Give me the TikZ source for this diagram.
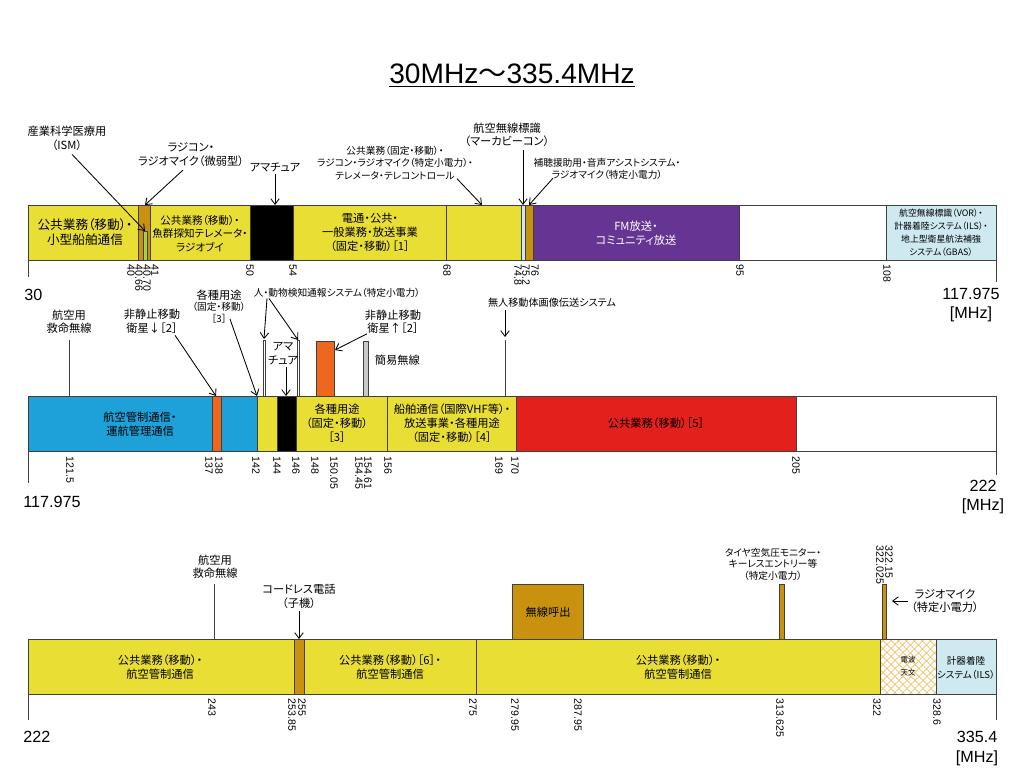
\documentclass[tikz,border=0pt]{standalone}
\usepackage{fontspec}
\setmainfont{Liberation Sans}
\newfontfamily\jp[RawFeature=+palt]{Noto Sans CJK JP}
\usetikzlibrary{arrows.meta,patterns.meta}
\definecolor{yel}{RGB}{233,222,52}
\definecolor{gold}{RGB}{200,146,14}
\definecolor{skyb}{RGB}{30,160,216}
\definecolor{orng}{RGB}{238,103,30}
\definecolor{redb}{RGB}{227,32,27}
\definecolor{purp}{RGB}{102,53,147}
\definecolor{lblue}{RGB}{207,233,241}
\definecolor{grn}{RGB}{165,209,62}
\definecolor{lgray}{RGB}{200,200,200}
\definecolor{hatch}{RGB}{242,196,106}
\definecolor{edge}{RGB}{64,64,64}
\begin{document}
\begin{tikzpicture}[
			x=0.025cm, y=-0.025cm,
			band/.style={draw=edge, line width=0.6pt},
			arr/.style={-{Straight Barb[length=4pt,width=6pt]}, line width=0.6pt},
			lbl/.style={font=\jp\fontsize{8}{10}\selectfont, align=center, inner sep=0pt},
			note/.style={font=\jp\fontsize{6.9}{8.2}\selectfont, align=center, inner sep=0pt, outer sep=2pt},
			notel/.style={note, font=\jp\fontsize{8}{9.6}\selectfont},
			tick/.style={font=\fontsize{7.5}{8}\selectfont, rotate=-90, anchor=west, inner sep=0.5pt},
			axnum/.style={font=\fontsize{11.5}{14}\selectfont, align=center, inner sep=0pt}
		]
		\useasboundingbox (0,0) rectangle (1024,768);
		\fill[white] (0,0) rectangle (1024,768);
		\node[font=\fontsize{20}{22}\selectfont, anchor=base, inner sep=0pt] (title) at (512,84) {\underline{30MHz{\jp ～}335.4MHz}};

		\foreach \a/\b/\c in {28/138/yel,138/150/gold,150/250/yel,250/293/black,293/446/yel,446/521/yel,521/525/lblue,525/533/gold,533/739/purp,739/886/white,886/996/lblue}
			\draw[band,fill=\c] (\a,205) rectangle (\b,260);
		\draw[band,fill=grn] (143,231) rectangle (147,260);
		\draw[band] (28,260) -- (28,277);
		\draw[band] (996,260) -- (996,282);
		\foreach \x/\t [count=\i] in {131/40,139/40.66,147/40.70,155/41,250/50,293/54,447/68,518/74.8,526/75.2,535/76,740/95,887/108}
			\node[tick] (ta\i) at (\x,264) {\t};
		\node[axnum,anchor=west] (lo1) at (24,295) {30};
		\node[axnum] (hi1) at (971,305) {117.975\\{[MHz]}};

		\node[lbl,font=\jp\fontsize{9}{10.7}\selectfont] (land1) at (85,232.5) {公共業務（移動）・\\小型船舶通信};
		\node[lbl,font=\jp\fontsize{7.5}{9.8}\selectfont] (fish) at (200,233.5) {公共業務（移動）・\\魚群探知テレメータ・\\ラジオブイ};
		\node[lbl] (telecom) at (370,232.5) {電通・公共・\\一般業務・放送事業\\（固定・移動）［1］};
		\node[lbl,text=white] (fm) at (636,233.5) {FM放送・\\コミュニティ放送};
		\node[lbl,font=\jp\fontsize{6.3}{9.2}\selectfont] (vor) at (941,232.5) {航空無線標識（VOR）・\\計器着陸システム（ILS）・\\地上型衛星航法補強\\システム（GBAS）};

		\coordinate (ismtop) at (145,231);
		\coordinate (radtop) at (145,205);
		\coordinate (amatop) at (275,205);
		\coordinate (fixtop) at (482,205);
		\coordinate (mktop) at (523,205);
		\coordinate (hrtop) at (529,205);
		\node[notel] (ism) at (67,138.5) {産業科学医療用\\（ISM）};
		\node[notel] (radio) at (191,154.5) {ラジコン・\\ラジオマイク（微弱型）};
		\node[notel] (ama1) at (275,167) {アマチュア};
		\node[note,font=\jp\fontsize{6.9}{8.9}\selectfont] (fixmob) at (395,163) {公共業務（固定・移動）・\\ラジコン・ラジオマイク（特定小電力）・\\テレメータ・テレコントロール};
		\node[notel] (marker) at (507,135) {航空無線標識\\（マーカビーコン）};
		\node[note] (hearing) at (607,169) {補聴援助用・音声アシストシステム・\\ラジオマイク（特定小電力）};
		\draw[arr] ([shift={(5,1)}]ism.south) -- (ismtop);
		\draw[arr] ([shift={(-8,1)}]radio.south) -- (radtop);
		\draw[arr] (ama1) -- (amatop);
		\draw[arr] ([shift={(62,-4)}]fixmob.south) -- (fixtop);
		\draw[arr] (marker.south -| mktop) -- (mktop);
		\draw[arr] ([shift={(-54,-4)}]hearing.south) -- (hrtop);

		\foreach \a/\b/\c in {28/212/skyb,212/221/orng,221/257/skyb,257/277/yel,277/296/black,296/387/yel,387/516/yel,516/796/redb,796/996/white}
			\draw[band,fill=\c] (\a,396) rectangle (\b,451);
		\draw[band,fill=orng] (316,341) rectangle (334,396);
		\draw[band,fill=lgray] (363,341) rectangle (368,396);
		\draw[band,fill=white] (263,340) rectangle (265,396);
		\draw[band,fill=white] (297,340) rectangle (299,396);
		\draw[band] (28,451) -- (28,483);
		\draw[band] (996,451) -- (996,475);
		\coordinate (resc1top) at (69,340);
		\coordinate (resc1base) at (69,396);
		\draw[band] (resc1top) -- (resc1base);
		\coordinate (dronetop) at (505,340);
		\coordinate (dronebase) at (505,396);
		\draw[band] (dronetop) -- (dronebase);
		\foreach \x/\t [count=\i] in {70/121.5,209/137,219/138,256/142,277/144,296/146,315/148,334/150.05,359/154.45,368/154.61,388/156,499/169,515/170,796/205}
			\node[tick] (tb\i) at (\x,456) {\t};
		\node[axnum,anchor=west] (lo2) at (23,502) {117.975};
		\node[axnum] (hi2) at (983,497) {222\\{[MHz]}};

		\node[lbl] (atc) at (140,424) {航空管制通信・\\運航管理通信};
		\node[lbl] (var3) at (337,423) {各種用途\\（固定・移動）\\［3］};
		\node[lbl] (ship) at (452,423) {船舶通信（国際VHF等）・\\放送事業・各種用途\\（固定・移動）［4］};
		\node[lbl] (pub5) at (656,423) {公共業務（移動）［5］};

		\coordinate (ng1top) at (216,396);
		\coordinate (vartop) at (257,396);
		\coordinate (det1top) at (264,339);
		\coordinate (det2top) at (298,340);
		\coordinate (ama2top) at (286,396);
		\coordinate (ng2tip) at (335,350);
		\coordinate (dronetip) at (505,337);
		\node[notel] (rescue1) at (69,321.5) {航空用\\救命無線};
		\node[notel] (ngso1) at (152,321.5) {非静止移動\\衛星↓［2］};
		\node[note] (varuse) at (219,306.5) {{\fontsize{8}{8.2}\selectfont 各種用途}\\（固定・移動）\\［3］};
		\node[note] (animal) at (337,293) {人・動物検知通報システム（特定小電力）};
		\node[notel] (ama2) at (283,353.5) {アマ\\チュア};
		\node[notel] (ngso2) at (393,322) {非静止移動\\衛星↑［2］};
		\node[notel,anchor=west] (simple) at (372,360) {簡易無線};
		\node[note,font=\jp\fontsize{7.2}{8.2}\selectfont] (drone) at (552,303) {無人移動体画像伝送システム};
		\draw[arr] ([shift={(23,-1)}]ngso1.south) -- (ng1top);
		\draw[arr] ([shift={(11,-7)}]varuse.south) -- (vartop);
		\draw[arr] ([shift={(-70,-2)}]animal.south) -- (det1top);
		\draw[arr] ([shift={(-68,-2)}]animal.south) -- (det2top);
		\draw[arr] (ama2.south -| ama2top) -- (ama2top);
		\draw[arr] ([shift={(-26,-3)}]ngso2.south) -- (ng2tip);
		\draw[arr] (drone.south -| dronetip) -- (dronetip);

		\foreach \a/\b/\c in {28/294/yel,294/304/gold,304/476/yel,476/880/yel,936/996/lblue}
			\draw[band,fill=\c] (\a,639) rectangle (\b,694);
		\fill[white] (880,639) rectangle (936,694);
		\fill[pattern={Lines[angle=45,distance=4pt,line width=0.6pt]},pattern color=hatch] (880,639) rectangle (936,694);
		\fill[pattern={Lines[angle=-45,distance=4pt,line width=0.6pt]},pattern color=hatch] (880,639) rectangle (936,694);
		\draw[band] (880,639) rectangle (936,694);
		\draw[band,fill=gold] (512,584) rectangle (583,639);
		\draw[band,fill=gold] (779,584) rectangle (784,639);
		\draw[band,fill=gold] (882,584) rectangle (886,639);
		\draw[band] (28,694) -- (28,720);
		\draw[band] (996,694) -- (996,720);
		\coordinate (resc2top) at (214,584);
		\coordinate (resc2base) at (214,639);
		\draw[band] (resc2top) -- (resc2base);
		\foreach \x/\t [count=\i] in {212/243,292/253.85,302/255,473/275,515/279.95,578/287.95,780/313.625,877/322,937/328.6}
			\node[tick] (tc\i) at (\x,698) {\t};
		\node[tick] (td1) at (880,545) {322.025};
		\node[tick] (td2) at (889,545) {322.15};
		\node[axnum,anchor=west] (lo3) at (23,737) {222};
		\node[axnum] (hi3) at (977,748.5) {335.4\\{[MHz]}};

		\node[lbl] (pub2a) at (160,667.5) {公共業務（移動）・\\航空管制通信};
		\node[lbl] (pub6) at (390,667.5) {公共業務（移動）［6］・\\航空管制通信};
		\node[lbl] (pub2b) at (678,667.5) {公共業務（移動）・\\航空管制通信};
		\node[lbl,font=\jp\fontsize{5.3}{9.2}\selectfont] (astro) at (908,666.5) {電波\\天文};
		\node[lbl,font=\jp\fontsize{6.8}{10}\selectfont] (ils) at (966,668) {計器着陸\\システム（ILS）};
		\node[lbl] (pager) at (548,612) {無線呼出};

		\coordinate (cordtop) at (299,639);
		\coordinate (mictip) at (892,601);
		\node[notel] (rescue2) at (215,566.5) {航空用\\救命無線};
		\node[notel] (cordless) at (299,596.5) {コードレス電話\\（子機）};
		\node[note] (tire) at (773,564) {タイヤ空気圧モニター・\\キーレスエントリー等\\（特定小電力）};
		\node[notel] (mic) at (945,601) {ラジオマイク\\（特定小電力）};
		\draw[arr] (cordless.south -| cordtop) -- (cordtop);
		\draw[arr] (mic.west) -- (mic.west -| mictip);
	\end{tikzpicture}
\end{document}
